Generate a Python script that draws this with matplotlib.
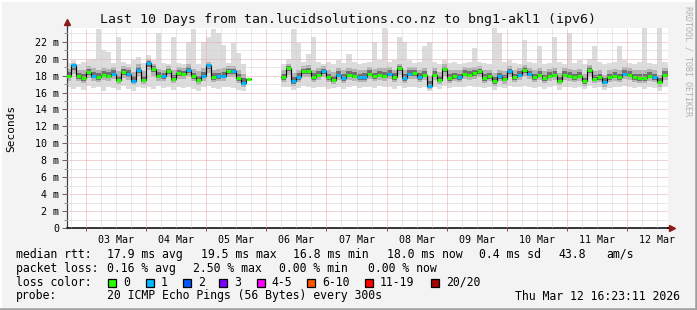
from datetime import datetime, timedelta

import numpy as np
import matplotlib
matplotlib.use('Agg')
import matplotlib.pyplot as plt
import matplotlib.dates as mdates
from matplotlib.collections import LineCollection
from matplotlib.patches import Rectangle
from matplotlib.lines import Line2D
from matplotlib.ticker import MultipleLocator, FuncFormatter, NullFormatter

# ---- datos (ms), un valor cada 2 horas desde 02 Mar 16:00 ----
inicio = datetime(2026, 3, 2, 16, 0)
fin_grafico = datetime(2026, 3, 12, 16, 23, 11)
inicio_grafico = fin_grafico - timedelta(days=10)
paso_horas = 2

mediana = [18.0, 19.2, 17.9, 17.7, 18.4, 18.0, 17.8, 18.1, 18.0, 18.2,
           17.5, 18.4, 18.2, 17.4, 18.7, 17.5, 19.5, 18.8, 18.0, 17.9,
           18.5, 17.6, 18.3, 18.2, 18.7, 17.9, 17.5, 18.0, 19.2, 17.8,
           17.9, 18.0, 18.5, 18.5, 17.7, 17.1, 17.6, None, None, None,
           None, None, None, 17.8, 18.9, 17.3, 17.8, 18.5, 18.5, 17.8,
           18.1, 18.5, 17.8, 17.5, 18.1, 17.7, 18.1, 18.0, 17.8, 17.8,
           18.2, 17.9, 18.1, 18.0, 18.2, 17.8, 18.9, 17.7, 18.2, 18.3,
           17.8, 18.1, 16.8, 18.1, 17.5, 18.8, 17.7, 17.9, 17.8, 18.2,
           18.1, 18.3, 18.5, 17.7, 17.9, 17.3, 17.9, 17.6, 18.5, 17.8,
           18.1, 18.7, 18.2, 17.8, 18.1, 17.7, 18.0, 18.1, 17.4, 18.1,
           18.0, 17.8, 18.0, 17.3, 18.7, 17.6, 17.8, 17.2, 17.8, 18.0,
           17.8, 18.2, 18.1, 17.8, 17.7, 17.7, 18.0, 17.8, 17.2, 18.1,
           18.1]

perdidas = [0, 1, 0, 0, 0, 1, 0, 0, 0, 1,
            0, 0, 1, 1, 1, 0, 1, 0, 0, 1,
            0, 0, 0, 0, 1, 0, 0, 1, 1, 0,
            1, 1, 0, 1, 0, 1, 0, 0, 0, 0,
            0, 0, 0, 0, 0, 1, 1, 0, 0, 0,
            0, 1, 0, 0, 1, 1, 0, 0, 1, 1,
            0, 0, 0, 0, 1, 0, 0, 1, 1, 0,
            1, 0, 1, 0, 0, 0, 0, 0, 1, 0,
            0, 0, 0, 0, 0, 0, 1, 0, 1, 0,
            1, 0, 1, 0, 0, 0, 0, 0, 0, 0,
            0, 0, 0, 0, 0, 0, 0, 1, 0, 0,
            0, 1, 0, 0, 0, 0, 0, 1, 0, 0,
            0]

maximo = [19.5, 19.8, 19.4, 19.6, 19.8, 20.0, 23.5, 21.0, 20.8, 19.5,
          22.5, 19.6, 19.4, 19.8, 20.2, 19.5, 20.4, 19.8, 23.0, 19.5,
          19.3, 22.5, 19.5, 19.4, 22.0, 23.5, 19.3, 22.0, 22.5, 23.5,
          23.0, 21.6, 19.5, 21.8, 20.6, 19.3, 20.5, None, None, None,
          None, None, None, 19.4, 19.9, 23.5, 21.8, 19.6, 20.5, 22.5,
          19.6, 19.4, 19.6, 19.3, 19.8, 19.5, 20.5, 19.6, 19.4, 19.5,
          19.6, 22.0, 19.8, 24.0, 19.6, 19.8, 22.5, 22.0, 19.8, 19.5,
          19.6, 21.5, 22.0, 19.6, 19.4, 19.8, 19.5, 19.6, 19.4, 19.5,
          19.6, 21.2, 19.6, 19.5, 19.4, 24.0, 23.0, 19.6, 19.8, 19.5,
          19.4, 22.2, 19.6, 19.5, 21.5, 19.4, 19.5, 22.5, 19.6, 19.4,
          23.0, 19.5, 19.8, 19.4, 20.0, 21.5, 19.6, 19.4, 19.5, 19.6,
          21.5, 19.8, 19.5, 19.4, 19.6, 24.0, 19.5, 19.4, 24.0, 19.6,
          19.5]

minimo = [16.6, 16.4, 16.7, 16.3, 16.8, 16.5, 16.6, 16.2, 16.7, 16.5,
          16.3, 16.8, 16.4, 16.2, 16.6, 16.5, 16.7, 16.4, 16.8, 16.5,
          16.6, 16.3, 16.7, 16.5, 16.6, 16.4, 16.2, 16.6, 16.8, 16.5,
          16.4, 16.7, 16.6, 16.5, 16.3, 16.2, 16.5, None, None, None,
          None, None, None, 16.6, 16.7, 16.3, 16.5, 16.8, 16.6, 16.5,
          16.7, 16.6, 16.4, 16.5, 16.7, 16.4, 16.6, 16.8, 16.5, 16.6,
          16.7, 16.5, 16.8, 16.6, 16.7, 16.4, 16.8, 16.5, 16.7, 16.6,
          16.5, 16.6, 16.2, 16.7, 16.4, 16.8, 16.5, 16.6, 16.7, 16.6,
          16.8, 16.7, 16.6, 16.5, 16.7, 16.3, 16.6, 16.5, 16.8, 16.6,
          16.7, 16.8, 16.6, 16.5, 16.7, 16.4, 16.6, 16.8, 16.3, 16.6,
          16.7, 16.5, 16.6, 16.4, 16.8, 16.5, 16.6, 16.3, 16.5, 16.7,
          16.6, 16.8, 16.7, 16.5, 16.6, 16.4, 16.7, 16.5, 16.2, 16.6,
          16.7]

cuartil_alto = [18.8, 19.5, 18.7, 18.6, 19.1, 18.9, 18.7, 18.9, 18.8, 19.0,
                18.5, 19.1, 19.0, 18.4, 19.3, 18.5, 19.9, 19.4, 18.8, 18.7,
                19.1, 18.6, 19.0, 18.9, 19.3, 18.8, 18.5, 18.9, 19.6, 18.7,
                18.8, 18.9, 19.1, 19.1, 18.6, 18.2, 18.5, None, None, None,
                None, None, None, 18.6, 19.4, 18.3, 18.7, 19.1, 19.2, 18.7,
                18.9, 19.1, 18.6, 18.4, 18.9, 18.6, 18.9, 18.8, 18.6, 18.7,
                19.0, 18.8, 18.9, 18.9, 19.0, 18.7, 19.4, 18.6, 19.0, 19.0,
                18.7, 18.9, 17.9, 18.9, 18.4, 19.3, 18.6, 18.7, 18.6, 19.0,
                18.9, 19.0, 19.1, 18.6, 18.7, 18.3, 18.7, 18.5, 19.1, 18.6,
                18.9, 19.2, 18.9, 18.6, 18.9, 18.5, 18.8, 18.9, 18.3, 18.9,
                18.8, 18.6, 18.8, 18.2, 19.2, 18.5, 18.6, 18.1, 18.6, 18.8,
                18.6, 19.0, 18.9, 18.6, 18.6, 18.6, 18.8, 18.6, 18.1, 18.9,
                18.9]

cuartil_bajo = [17.4, 18.2, 17.3, 17.1, 17.7, 17.4, 17.2, 17.5, 17.3, 17.6,
                17.0, 17.7, 17.5, 16.9, 17.9, 17.0, 18.6, 18.0, 17.4, 17.3,
                17.8, 17.1, 17.6, 17.6, 17.9, 17.3, 16.9, 17.4, 18.3, 17.2,
                17.3, 17.4, 17.8, 17.8, 17.1, 16.7, 17.1, None, None, None,
                None, None, None, 17.2, 18.1, 16.8, 17.2, 17.8, 17.8, 17.2,
                17.5, 17.8, 17.2, 17.0, 17.5, 17.1, 17.5, 17.4, 17.2, 17.2,
                17.6, 17.3, 17.5, 17.4, 17.6, 17.2, 18.1, 17.1, 17.6, 17.6,
                17.2, 17.5, 16.4, 17.5, 17.0, 18.0, 17.1, 17.3, 17.2, 17.6,
                17.5, 17.6, 17.8, 17.1, 17.3, 16.8, 17.3, 17.0, 17.8, 17.2,
                17.5, 17.9, 17.6, 17.2, 17.5, 17.1, 17.4, 17.5, 16.9, 17.5,
                17.4, 17.2, 17.4, 16.8, 17.9, 17.1, 17.2, 16.7, 17.2, 17.4,
                17.2, 17.6, 17.5, 17.2, 17.1, 17.1, 17.4, 17.2, 16.7, 17.5,
                17.5]

# colores de perdida de paquetes (leyenda)
etiquetas_perdida = ['0', '1', '2', '3', '4-5', '6-10', '11-19', '20/20']
colores_perdida = ['#26ff00', '#00b8ff', '#0059ff', '#7e00ff', '#ff00ff',
                   '#ff5500', '#ff0000', '#a10000']

lineas_leyenda = [
    ['median rtt:', '17.9 ms avg', '19.5 ms max', '16.8 ms min', '18.0 ms now',
     '0.4 ms sd', '43.8', 'am/s'],
    ['packet loss:', '0.16 % avg', '2.50 % max', '0.00 % min', '0.00 % now'],
]

# ---- figura ----
W, H = 697, 310
fig = plt.figure(figsize=(W / 100, H / 100), dpi=100, facecolor='#f3f3f3')
fuente = 'DejaVu Sans Mono'
plt.rcParams['font.family'] = fuente


def fx(px):
    return px / W


def fy(py):
    return 1 - py / H


ax = fig.add_axes([fx(67), fy(228.3), fx(668) - fx(67), fy(28) - fy(228.3)])
ax.set_facecolor('white')

n = len(mediana)
bordes = [mdates.date2num(inicio + timedelta(hours=paso_horas * k)) for k in range(n + 1)]
bordes = np.array(bordes)


def serie(v):
    a = np.array(v, dtype=float)
    return np.append(a, a[-1])


med = serie(mediana)
hi = serie(maximo)
lo = serie(minimo)
qh = serie(cuartil_alto)
ql = serie(cuartil_bajo)

# humo
ax.fill_between(bordes, lo, hi, step='post', color='#dcdcdc', lw=0, zorder=1)
ax.fill_between(bordes, ql, qh, step='post', color='#b4b4b4', lw=0, zorder=1.1)
ax.fill_between(bordes, (ql + med) / 2, (qh + med) / 2, step='post',
                color='#707070', lw=0, zorder=1.2)

# mediana: linea negra + segmentos de color segun perdidas
ax.step(bordes, med, where='post', color='black', lw=0.8, zorder=3)
segmentos = []
colores = []
for k in range(n):
    if mediana[k] is None:
        continue
    segmentos.append([(bordes[k], mediana[k]), (bordes[k + 1], mediana[k])])
    colores.append(colores_perdida[perdidas[k]])
ax.add_collection(LineCollection(segmentos, colors=colores, linewidths=2.1,
                                 zorder=4, capstyle='butt'))

ax.set_xlim(mdates.date2num(inicio_grafico), mdates.date2num(fin_grafico))
ax.set_ylim(0, 23.6)

# rejilla
rojo = '#e6a8a8'
gris = '#d4d4d4'
ax.set_axisbelow(False)
ax.yaxis.set_major_locator(MultipleLocator(2))
ax.yaxis.set_minor_locator(MultipleLocator(1))
ax.yaxis.set_major_formatter(FuncFormatter(lambda v, p: '0' if v == 0 else '%d m' % v))
ax.xaxis.set_major_locator(mdates.DayLocator())
ax.xaxis.set_major_formatter(NullFormatter())
ax.xaxis.set_minor_locator(mdates.HourLocator(byhour=[6, 12, 18]))
ax.xaxis.set_minor_formatter(FuncFormatter(
    lambda v, p: mdates.num2date(v).strftime('%d %b') if mdates.num2date(v).hour == 12 else ''))
ax.grid(which='major', color=rojo, lw=0.72, ls=(0, (1, 1)), zorder=2.5)
ax.grid(which='minor', color=gris, lw=0.72, ls=(0, (1, 1)), zorder=2.4)

ax.tick_params(axis='y', which='major', length=3.5, width=0.7, color='#606060',
               labelsize=7.2, pad=2, labelcolor='black')
ax.tick_params(axis='y', which='minor', length=2, width=0.7, color='#909090')
ax.tick_params(axis='x', which='major', length=2, width=0.7, color='#a04040')
ax.tick_params(axis='x', which='minor', length=0, labelsize=7.2, pad=4.5)
for t in ax.get_xticklabels(minor=True) + ax.get_yticklabels():
    t.set_family(fuente)

for s in ['top', 'right']:
    ax.spines[s].set_visible(False)
ax.spines['left'].set_color('#404040')
ax.spines['left'].set_linewidth(0.9)
ax.spines['bottom'].set_color('black')
ax.spines['bottom'].set_linewidth(1.1)

# flechas de los ejes
ax.plot([0, 0], [1, 1.02], transform=ax.transAxes, color='#404040', lw=0.9, clip_on=False)
ax.plot([0], [1.03], marker='^', ms=4.5, color='#8b1a1a', transform=ax.transAxes, clip_on=False)
ax.plot([1, 1.004], [0, 0], transform=ax.transAxes, color='black', lw=1.1, clip_on=False)
ax.plot([1.006], [0], marker='>', ms=4.5, color='#8b1a1a', transform=ax.transAxes, clip_on=False)

# textos
fig.text(0.5, fy(19), 'Last 10 Days from tan.lucidsolutions.co.nz to bng1-akl1 (ipv6)',
         ha='center', va='center', fontsize=9.5, family=fuente, color='#111111')
fig.text(fx(11), fy(128), 'Seconds', rotation=90, ha='center', va='center',
         fontsize=8, family=fuente)
fig.text(fx(688), fy(6), 'RRDTOOL / TOBI OETIKER', rotation=-90, ha='center', va='top',
         fontsize=6, family=fuente, color='#b0b0b0')

tam = 8.3
xs1 = [16, 107, 200.7, 293.3, 386.7, 479.3, 558.3, 606.7]
for x, s in zip(xs1, lineas_leyenda[0]):
    fig.text(fx(x), fy(254.3), s, ha='left', va='center', fontsize=tam, family=fuente)
xs2 = [16, 107, 193, 279.3, 368.3]
for x, s in zip(xs2, lineas_leyenda[1]):
    fig.text(fx(x), fy(268.3), s, ha='left', va='center', fontsize=tam, family=fuente)

fig.text(fx(16), fy(282.3), 'loss color:', ha='left', va='center', fontsize=tam, family=fuente)
xs_caja = [108.3, 145.7, 182.7, 219.3, 256.7, 307.3, 365, 430.7]
for x, c, s in zip(xs_caja, colores_perdida, etiquetas_perdida):
    fig.add_artist(Rectangle((fx(x), fy(286.5)), fx(8), 8 / H, transform=fig.transFigure,
                             facecolor=c, edgecolor='black', lw=0.9))
    fig.text(fx(x + 15), fy(282.3), s, ha='left', va='center', fontsize=tam, family=fuente)

fig.text(fx(16), fy(296), 'probe:', ha='left', va='center', fontsize=tam, family=fuente)
fig.text(fx(107), fy(296), '20 ICMP Echo Pings (56 Bytes) every 300s', ha='left',
         va='center', fontsize=tam, family=fuente)
fig.text(fx(680), fy(296), fin_grafico.strftime('%a %b %d %H:%M:%S %Y'), ha='right',
         va='center', fontsize=tam, family=fuente)

# marco
fig.add_artist(Line2D([0, 1], [1 - 1 / H, 1 - 1 / H], transform=fig.transFigure, color='white', lw=1.4))
fig.add_artist(Line2D([1 / W, 1 / W], [0, 1], transform=fig.transFigure, color='white', lw=1.4))
fig.add_artist(Line2D([0, 1], [1.2 / H, 1.2 / H], transform=fig.transFigure, color='#9e9e9e', lw=1.8))
fig.add_artist(Line2D([1 - 1.2 / W, 1 - 1.2 / W], [0, 1], transform=fig.transFigure, color='#9e9e9e', lw=1.8))

fig.savefig('out.png', dpi=100, facecolor=fig.get_facecolor())
